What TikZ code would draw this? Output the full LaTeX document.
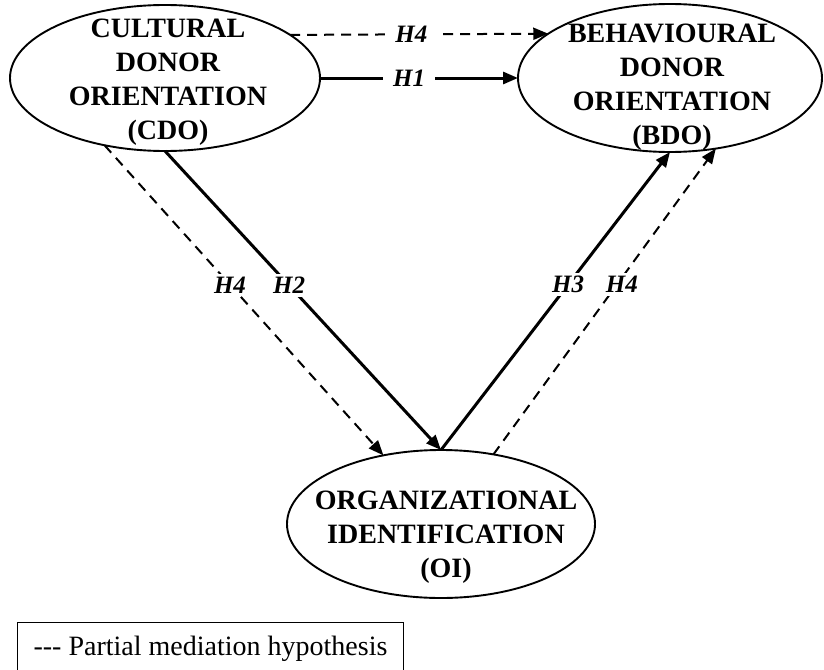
\documentclass[tikz,border=0pt]{standalone}
\usepackage{fontspec}
\setmainfont{Liberation Serif}
\usetikzlibrary{shapes.geometric,arrows.meta}
\begin{document}
\begin{tikzpicture}[x=1pt,y=-1pt,
  construct/.style={ellipse, draw, line width=1.9pt, inner sep=0pt, outer sep=0pt},
  ctext/.style={anchor=north, inner sep=0pt, align=center,
    font=\fontsize{28}{34}\selectfont\bfseries},
  tip/.style={-{Triangle[length=15pt,width=12pt]}},
  solidlink/.style={tip, line width=3pt},
  dashlink/.style={tip, line width=2pt, dash pattern=on 10pt off 7pt},
  hyp/.style={fill=white, inner xsep=10pt, inner ysep=3pt,
    font=\fontsize{25}{28}\selectfont\bfseries\itshape}]
\useasboundingbox (0,0) rectangle (824,669);
\clip (0,0) rectangle (824,669);

% the three constructs
\node (cdo) [construct, minimum width=310pt, minimum height=146pt] at (165,78) {};
\node (bdo) [construct, minimum width=304pt, minimum height=148pt] at (670,78) {};
\node (oi)  [construct, minimum width=308pt, minimum height=148pt] at (441,524) {};

\node (cdo-t) [ctext] at (168,19) {CULTURAL\\DONOR\\ORIENTATION\\(CDO)};
\node (bdo-t) [ctext] at (672,24) {BEHAVIOURAL\\DONOR\\ORIENTATION\\(BDO)};
\node (oi-t)  [ctext] at (446,491) {ORGANIZATIONAL\\IDENTIFICATION\\(OI)};

% hypothesised paths
\draw[dashlink]  (cdo.19.5)  -- node[hyp, pos=0.47] {H4} (bdo.160.2);
\draw[solidlink] (cdo.east)  -- node[hyp, pos=0.45] {H1} (bdo.west);
\draw[dashlink]  (cdo.228)   -- node[hyp, pos=0.45] {H4} (oi.130.3);
\draw[solidlink] (cdo.south) -- node[hyp, pos=0.45] {H2} (oi.north);
\draw[solidlink] (oi.north)  -- node[hyp, pos=0.555] {H3} (bdo.south);
\draw[dashlink]  (oi.53.8)   -- node[hyp, pos=0.555, xshift=5pt] {H4} (bdo.303.7);

% legend
\node (legend) [draw, line width=1pt, anchor=north west, inner xsep=12pt, inner ysep=0pt,
  minimum width=386pt, text height=33pt, text depth=37pt,
  font=\fontsize{28}{34}\selectfont] at (17,622) {-{}-{}- Partial mediation hypothesis};
\end{tikzpicture}
\end{document}
